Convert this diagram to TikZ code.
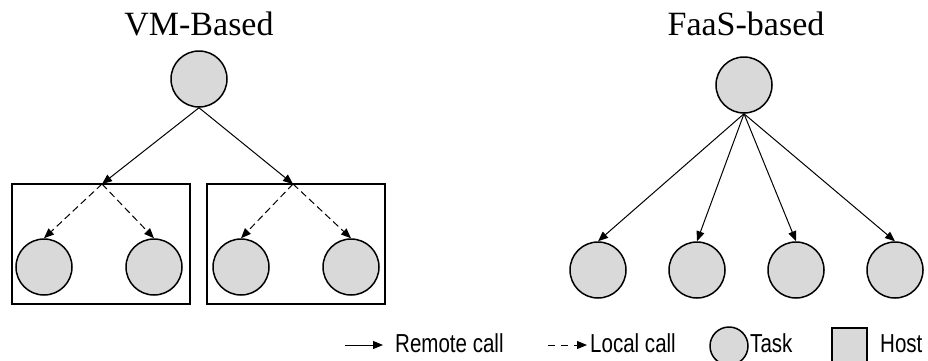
\documentclass[tikz,border=0pt]{standalone}
\usepackage{fontspec}
\setmainfont{Liberation Serif}
\newfontfamily\legendfont[FakeStretch=0.79]{Liberation Sans}
\usetikzlibrary{arrows.meta}

\definecolor{taskgray}{RGB}{217,217,217}

\begin{document}
\begin{tikzpicture}[x=1pt, y=1pt,
        task/.style={circle, draw, line width=1.5pt, fill=taskgray, minimum size=56pt, inner sep=0pt},
        host/.style={draw, line width=1.6pt, minimum width=178pt, minimum height=120pt, inner sep=0pt},
        remote/.style={-{Triangle[length=10pt, width=8pt]}, line width=1pt},
        local/.style={remote, dash pattern=on 7pt off 4pt},
        title/.style={font=\fontsize{34}{37}\selectfont, anchor=base},
        legend/.style={font=\legendfont\fontsize{26}{28}\selectfont, anchor=base west, inner sep=0pt}]
    \useasboundingbox (0, 0) rectangle (928, 360);

    % VM-based: one call per host, then local calls inside the host
    \node[title] (vmtitle) at (199, 325) {VM-Based};
    \node[task] (vmroot) at (199, 281) {};

    \node[host] (hostA) at (101, 116) {};
    \node[host] (hostB) at (296, 116) {};
    \coordinate (hA) at (102, 176);
    \coordinate (hB) at (293, 176);

    \foreach \n/\x in {1/44, 2/154}
        \node[task] (vmA\n) at (\x, 93) {};
    \foreach \n/\x in {1/241, 2/351}
        \node[task] (vmB\n) at (\x, 93) {};

    \draw[remote] (vmroot.south) -- (hA);
    \draw[remote] (vmroot.south) -- (hB);
    \foreach \n in {1, 2} {
        \draw[local] (hA) -- (vmA\n.north);
        \draw[local] (hB) -- (vmB\n.north);
    }

    % FaaS-based: every task is a remote call
    \node[title] (faastitle) at (746, 325) {FaaS-based};
    \node[task] (faasroot) at (744, 275) {};
    \foreach \n/\x in {1/598, 2/697, 3/796, 4/895} {
        \node[task] (faas\n) at (\x, 90) {};
        \draw[remote] (faasroot.south) -- (faas\n.north);
    }

    % legend
    \coordinate (remoteA) at (345, 15); \coordinate (remoteB) at (383, 15);
    \coordinate (localA) at (548, 15);  \coordinate (localB) at (587, 15);
    \draw[remote] (remoteA) -- (remoteB);
    \node[legend] (remotetext) at (395, 8) {Remote call};
    \draw[local, dash pattern=on 7pt off 6pt] (localA) -- (localB);
    \node[legend] (localtext) at (590, 8) {Local call};
    \node[task, minimum size=38pt] (tasksym) at (729, 14) {};
    \node[legend] (tasktext) at (750, 8) {Task};
    \node[draw, line width=1.5pt, fill=taskgray, minimum size=35pt, inner sep=0pt] (hostsym) at (849.5, 14.5) {};
    \node[legend] (hosttext) at (880, 8) {Host};
\end{tikzpicture}
\end{document}
